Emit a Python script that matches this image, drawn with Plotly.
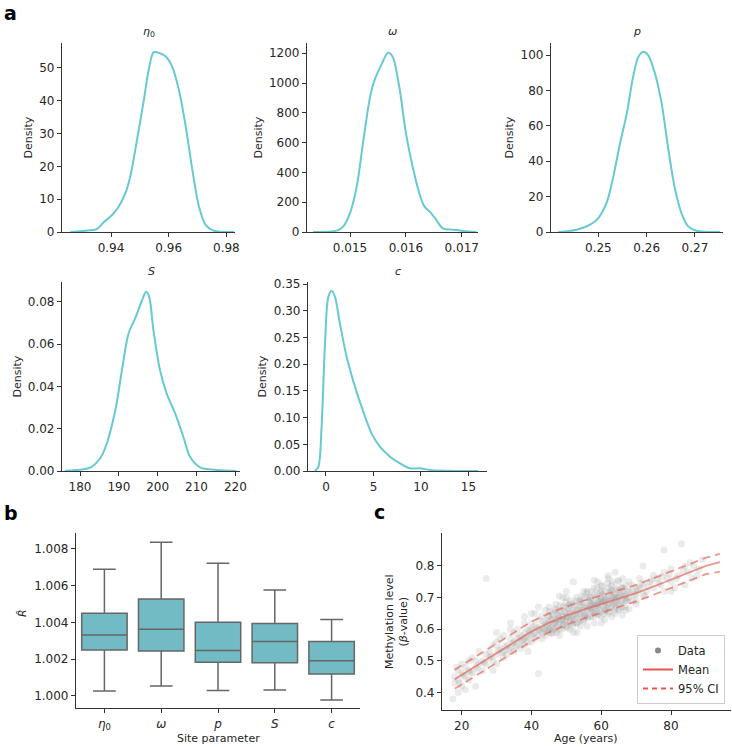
"""Posterior densities, R-hat box plot and methylation fit (Plotly)"""

import plotly.graph_objects as go

W, H = 732, 747

# ---- panel a: posterior KDE curves ----
eta0_x = [0.9259, 0.9328, 0.9351, 0.9374, 0.9403, 0.9427, 0.945, 0.9467, 0.949, 0.9514, 0.9531,
          0.9548, 0.9566, 0.9589, 0.9612, 0.9635, 0.9659, 0.9682, 0.9705, 0.9728, 0.9757, 0.9827]
eta0_y = [0, 0.5, 0.9, 2.9, 5.1, 7.8, 11.9, 17, 28, 40.3, 49.5,
          54.8, 54.6, 53.6, 50.5, 43.4, 32.2, 19, 7.8, 2.2, 0.4, 0]

omega_x = [0.01434, 0.01478, 0.01488, 0.0150, 0.01512, 0.01524, 0.01536, 0.01544, 0.01556, 0.01568, 0.01576,
           0.01588, 0.0160, 0.01612, 0.01624, 0.01633, 0.01645, 0.01654, 0.01666, 0.01684, 0.01702, 0.01726]
omega_y = [0, 11, 38, 127, 306, 619, 909, 1021, 1122, 1204, 1178,
           977, 664, 440, 261, 172, 127, 83, 25, 16, 7, 0]

p_x = [0.2417, 0.2455, 0.2483, 0.25, 0.2517, 0.2531, 0.2545, 0.2559, 0.2572, 0.2583, 0.2593,
       0.2603, 0.2617, 0.2631, 0.2645, 0.2659, 0.2672, 0.2686, 0.2703, 0.2752]
p_y = [0, 1.3, 4.1, 7.9, 16.4, 31.4, 50.2, 67.1, 87.8, 99.1, 101.9,
       100, 89.7, 72.7, 46.4, 23.9, 10.7, 3.2, 0.75, 0]

S_x = [176.1, 180.9, 183, 185.2, 186.9, 189.1, 190.8, 192.5, 194.2, 196, 197,
       197.8, 198.9, 200.6, 202.3, 204.5, 206.6, 208.3, 210.9, 215.2, 220.3]
S_y = [0, 0.0008, 0.002, 0.006, 0.013, 0.0288, 0.0477, 0.065, 0.0721, 0.0808, 0.0847,
       0.0824, 0.0666, 0.0477, 0.0367, 0.0272, 0.0162, 0.0068, 0.0017, 0.0005, 0]

c_x = [-1.16, -0.8, -0.46, -0.1, 0.25, 0.6, 0.95, 1.47, 2.18, 3.05, 3.93,
       4.8, 5.68, 6.74, 7.79, 8.84, 9.9, 10.95, 12.7, 16]
c_y = [0, 0.008, 0.083, 0.239, 0.326, 0.3375, 0.326, 0.276, 0.214, 0.158, 0.111,
       0.0705, 0.0455, 0.0268, 0.0143, 0.005, 0.005, 0.002, 0.0006, 0]

# ---- panel b: R-hat per site parameter ----
params = ["<i>η</i><sub>0</sub>", "<i>ω</i>", "<i>p</i>", "<i>S</i>", "<i>c</i>"]
rhat_low = [1.00025, 1.00053, 1.00029, 1.00031, 0.99976]
rhat_q1 = [1.00249, 1.00244, 1.00182, 1.00180, 1.00118]
rhat_med = [1.00331, 1.00362, 1.00247, 1.00296, 1.00191]
rhat_q3 = [1.00449, 1.00527, 1.00400, 1.00393, 1.00296]
rhat_high = [1.00689, 1.00836, 1.00722, 1.00576, 1.00416]

# ---- panel c: methylation vs age ----
data_age = [
    18, 18, 19, 19, 19, 20, 20, 20, 21, 21, 22, 22, 22, 23, 23, 24, 24, 24, 25, 25, 17.5, 18.5, 21,
    26, 26, 27, 27, 27, 28, 28, 29, 29, 30, 30, 30, 31, 31, 32, 32, 32, 33, 33, 34, 34, 34, 35, 35, 35, 29,
    36, 36, 36, 37, 37, 37, 38, 38, 38, 38, 39, 39, 39, 40, 40, 40, 40, 40, 41, 41, 41, 42, 42, 42, 42,
    43, 43, 43, 43, 44, 44, 44, 44, 45, 45, 45, 45, 45, 41, 39,
    46, 46, 46, 46, 47, 47, 47, 47, 47, 48, 48, 48, 48, 49, 49, 49, 49, 49, 50, 50, 50, 50, 50,
    51, 51, 51, 51, 51, 52, 52, 52, 52, 52, 53, 53, 53, 53, 54, 54, 54, 54, 54, 55, 55, 55, 55, 55, 48, 53, 50,
    56, 56, 56, 56, 56, 57, 57, 57, 57, 57, 58, 58, 58, 58, 58, 59, 59, 59, 59, 59, 60, 60, 60, 60, 60, 60,
    61, 61, 61, 61, 61, 62, 62, 62, 62, 62, 62, 63, 63, 63, 63, 63, 64, 64, 64, 64, 64, 65, 65, 65, 65, 65,
    58, 61, 63, 59, 64, 57, 60,
    66, 66, 66, 66, 67, 67, 67, 67, 68, 68, 68, 69, 69, 70, 70, 70, 71, 71, 72, 72, 72, 73, 74, 75, 75,
    76, 77, 78, 78, 79, 80, 80, 81, 82, 78, 83, 84, 85, 86, 88, 84, 80,
    44.5, 45.5, 46.5, 47.5, 48.5, 49.5, 50.5, 51.5, 52.5, 53.5, 54.5, 55.5,
    56.5, 57.5, 58.5, 59.5, 60.5, 61.5, 62.5, 63.5, 64.5, 65.5, 66.5, 67.5,
    44.5, 45.5, 46.5, 47.5, 48.5, 49.5, 50.5, 51.5, 52.5, 53.5, 54.5, 55.5,
    56.5, 57.5, 58.5, 59.5, 60.5, 61.5, 62.5, 63.5, 64.5, 65.5, 66.5, 67.5,
    43.5, 44.8, 46.2, 47.8, 49.2, 50.8, 52.2, 53.8, 55.2, 56.8, 58.2, 59.8, 61.2, 62.8, 64.2, 65.8, 67.2, 68.8,
    45.2, 46.8, 48.2, 49.8, 51.2, 52.8, 54.2, 55.8, 57.2, 58.8, 60.2, 61.8, 63.2, 64.8, 66.2,
    45.8, 47.2, 48.8, 50.2, 51.8, 53.2, 54.8, 56.2, 57.8, 59.2, 60.8, 62.2, 63.8, 65.2, 66.8,
    38.5, 39.5, 40.5, 41.5, 42.5, 43.5, 37.5, 36.5, 35.5, 34.5, 33.5, 32.5, 31.5, 30.5, 28.5, 26.5, 24.5, 22.5, 20.5, 19.5,
    70.5, 71.5, 73.5, 74.5, 76.5, 77.5, 79.5, 81.5, 83.5, 86.5, 89, 87.5, 85.5, 72.5, 69.5,
    60, 62, 56, 64, 52, 50, 48, 58, 66, 68, 70, 42, 38, 34, 30,
]
data_beta = [
    0.43, 0.45, 0.40, 0.47, 0.44, 0.49, 0.42, 0.46, 0.45, 0.48, 0.50, 0.44, 0.47, 0.51, 0.46, 0.48, 0.42, 0.50, 0.49, 0.53, 0.38, 0.48, 0.41,
    0.50, 0.47, 0.76, 0.52, 0.49, 0.53, 0.51, 0.55, 0.50, 0.52, 0.56, 0.49, 0.54, 0.57, 0.53, 0.51, 0.58, 0.55, 0.52, 0.57, 0.54, 0.60, 0.56, 0.53, 0.59, 0.47,
    0.57, 0.55, 0.60, 0.58, 0.56, 0.54, 0.59, 0.57, 0.62, 0.55, 0.58, 0.60, 0.56, 0.60, 0.58, 0.62, 0.56, 0.65, 0.59, 0.61, 0.57, 0.60, 0.63, 0.58, 0.46,
    0.61, 0.59, 0.64, 0.57, 0.62, 0.60, 0.66, 0.58, 0.62, 0.60, 0.64, 0.59, 0.67, 0.65, 0.53,
    0.63, 0.61, 0.65, 0.59, 0.63, 0.62, 0.66, 0.60, 0.68, 0.64, 0.62, 0.66, 0.60, 0.64, 0.63, 0.67, 0.61, 0.70, 0.65, 0.63, 0.67, 0.61, 0.64,
    0.65, 0.63, 0.68, 0.62, 0.60, 0.66, 0.64, 0.68, 0.62, 0.75, 0.66, 0.64, 0.69, 0.62, 0.67, 0.65, 0.69, 0.63, 0.61, 0.67, 0.65, 0.70, 0.63, 0.72, 0.58, 0.59, 0.70,
    0.67, 0.66, 0.70, 0.64, 0.72, 0.68, 0.66, 0.70, 0.64, 0.67, 0.68, 0.67, 0.71, 0.65, 0.73, 0.69, 0.67, 0.71, 0.65, 0.68, 0.69, 0.68, 0.72, 0.66, 0.64, 0.74,
    0.69, 0.68, 0.72, 0.66, 0.70, 0.70, 0.68, 0.73, 0.67, 0.65, 0.76, 0.70, 0.69, 0.72, 0.67, 0.74, 0.70, 0.69, 0.73, 0.67, 0.65, 0.70, 0.68, 0.72, 0.66, 0.75,
    0.62, 0.63, 0.64, 0.75, 0.71, 0.69, 0.70,
    0.71, 0.69, 0.73, 0.67, 0.71, 0.69, 0.74, 0.66, 0.72, 0.70, 0.75, 0.72, 0.69, 0.73, 0.71, 0.68, 0.73, 0.76, 0.74, 0.71, 0.80, 0.72, 0.75, 0.73, 0.77,
    0.76, 0.74, 0.78, 0.72, 0.76, 0.75, 0.79, 0.73, 0.77, 0.85, 0.87, 0.80, 0.78, 0.76, 0.79, 0.74, 0.72,
    0.615, 0.63, 0.62, 0.645, 0.63, 0.655, 0.64, 0.655, 0.65, 0.665, 0.66, 0.675,
    0.665, 0.68, 0.675, 0.69, 0.685, 0.695, 0.69, 0.705, 0.70, 0.71, 0.705, 0.72,
    0.595, 0.605, 0.645, 0.615, 0.655, 0.625, 0.665, 0.635, 0.675, 0.645, 0.685, 0.645,
    0.69, 0.655, 0.70, 0.665, 0.71, 0.67, 0.715, 0.68, 0.725, 0.685, 0.73, 0.695,
    0.625, 0.64, 0.60, 0.635, 0.615, 0.675, 0.63, 0.685, 0.64, 0.70, 0.655, 0.715, 0.66, 0.725, 0.68, 0.73, 0.69, 0.74,
    0.655, 0.665, 0.675, 0.685, 0.69, 0.70, 0.705, 0.715, 0.72, 0.73, 0.735, 0.745, 0.75, 0.755, 0.76,
    0.585, 0.59, 0.60, 0.605, 0.61, 0.62, 0.625, 0.635, 0.64, 0.645, 0.65, 0.655, 0.66, 0.665, 0.67,
    0.575, 0.595, 0.585, 0.605, 0.595, 0.60, 0.565, 0.575, 0.545, 0.555, 0.535, 0.545, 0.525, 0.535, 0.515, 0.495, 0.475, 0.465, 0.455, 0.43,
    0.725, 0.745, 0.735, 0.755, 0.745, 0.765, 0.775, 0.76, 0.785, 0.80, 0.82, 0.77, 0.81, 0.705, 0.71,
    0.62, 0.77, 0.61, 0.78, 0.59, 0.72, 0.705, 0.755, 0.645, 0.665, 0.69, 0.67, 0.64, 0.62, 0.59,
]

fit_age = [18, 25, 30, 35, 40, 45, 50, 55, 60, 65, 70, 75, 80, 85, 90, 94]
fit_mean = [0.442, 0.490, 0.525, 0.558, 0.593, 0.620, 0.643, 0.662, 0.680, 0.697, 0.714, 0.735, 0.756, 0.778, 0.800, 0.812]
fit_upper = [0.472, 0.520, 0.555, 0.589, 0.624, 0.650, 0.672, 0.690, 0.707, 0.723, 0.740, 0.761, 0.782, 0.804, 0.826, 0.838]
fit_lower = [0.412, 0.460, 0.495, 0.527, 0.562, 0.590, 0.614, 0.634, 0.652, 0.670, 0.688, 0.709, 0.730, 0.752, 0.774, 0.782]

KDE_COLOR = "#66c9d3"
BOX_FILL = "#72bbc4"
EDGE = "#666666"
FIT_COLOR = "rgba(228,95,80,0.65)"
LEGEND_RED = "#e5574b"
FONT = "DejaVu Sans"
INK = "#262626"


def px(x):
    return x / W


def py(y):
    return 1 - y / H


def axis_style(x0, x1, rng, **kw):
    d = dict(
        domain=[px(x0), px(x1)],
        range=rng,
        automargin=False,
        showline=True,
        linecolor="#333333",
        linewidth=1.2,
        showgrid=False,
        zeroline=False,
        ticks="outside",
        ticklen=4,
        tickwidth=1,
        tickcolor="#333333",
        tickfont=dict(family=FONT, size=12, color=INK),
    )
    d.update(kw)
    return d


def yaxis_style(top, bottom, rng, **kw):
    d = axis_style(0, 1, rng, **kw)
    d["domain"] = [py(bottom), py(top)]
    return d


def label(text, x, y, angle=0, size=11):
    return dict(
        text=text, x=px(x), y=py(y), xref="paper", yref="paper",
        xanchor="center", yanchor="middle", showarrow=False, textangle=angle,
        font=dict(family=FONT, size=size, color=INK),
    )


fig = go.Figure()

# (name, x, y, axis no, x box, y box, xrange, yrange, xticks, yticks, yfmt, density label x)
kde_panels = [
    ("<i>η</i><sub>0</sub>", eta0_x, eta0_y, 1, (62, 235), (43, 232), [0.923, 0.983], [0, 57.6],
     [0.94, 0.96, 0.98], [0, 10, 20, 30, 40, 50], None, 28),
    ("<i>ω</i>", omega_x, omega_y, 2, (307, 478), (43, 232), [0.01423, 0.01729], [0, 1269],
     [0.015, 0.016, 0.017], [0, 200, 400, 600, 800, 1000, 1200], None, 258),
    ("<i>p</i>", p_x, p_y, 3, (551, 723), (43, 232), [0.2402, 0.2758], [0, 106.8],
     [0.25, 0.26, 0.27], [0, 20, 40, 60, 80, 100], None, 509),
    ("<i>S</i>", S_x, S_y, 4, (62, 240), (282, 471), [175.36, 221.2], [0, 0.0893],
     [180, 190, 200, 210, 220], [0, 0.02, 0.04, 0.06, 0.08], ".2f", 17),
    ("<i>c</i>", c_x, c_y, 5, (308, 487), (282, 471), [-1.89, 16.95], [0, 0.354],
     [0, 5, 10, 15], [0, 0.05, 0.1, 0.15, 0.2, 0.25, 0.3, 0.35], ".2f", 262),
]

layout_axes = {}
annotations = []

for name, xs, ys, n, (x0, x1), (top, bottom), xr, yr, xt, yt, yfmt, lx in kde_panels:
    sfx = "" if n == 1 else str(n)
    fig.add_trace(
        go.Scatter(
            x=xs, y=ys, mode="lines",
            line=dict(color=KDE_COLOR, width=2, shape="spline", smoothing=0.9),
            xaxis="x" + sfx, yaxis="y" + sfx, showlegend=False, hoverinfo="skip",
        )
    )
    layout_axes["xaxis" + sfx] = axis_style(x0, x1, xr, tickvals=xt, anchor="y" + sfx)
    ykw = dict(tickvals=yt, anchor="x" + sfx)
    if yfmt:
        ykw["tickformat"] = yfmt
    layout_axes["yaxis" + sfx] = yaxis_style(top, bottom, yr, **ykw)
    annotations.append(label(name, (x0 + x1) / 2, top - 11))  # 子图标题
    annotations.append(label("Density", lx, (top + bottom) / 2, angle=-90))

# 箱线图
fig.add_trace(
    go.Box(
        x=[0, 1, 2, 3, 4],
        q1=rhat_q1, median=rhat_med, q3=rhat_q3,
        lowerfence=rhat_low, upperfence=rhat_high,
        fillcolor=BOX_FILL, line=dict(color=EDGE, width=1.5),
        width=0.8, whiskerwidth=0.5, boxpoints=False,
        xaxis="x6", yaxis="y6", showlegend=False, hoverinfo="skip",
    )
)
layout_axes["xaxis6"] = axis_style(76, 360, [-0.5, 4.5], tickvals=[0, 1, 2, 3, 4], ticktext=params, anchor="y6")
layout_axes["yaxis6"] = yaxis_style(533, 708, [0.99933, 1.00887], tickvals=[1.0, 1.002, 1.004, 1.006, 1.008],
                                    tickformat=".3f", anchor="x6")

# 散点 + 拟合
fig.add_trace(
    go.Scatter(
        x=data_age, y=data_beta, mode="markers",
        marker=dict(color="#7a7a7a", size=7, opacity=0.15, line=dict(width=0)),
        xaxis="x7", yaxis="y7", showlegend=False, hoverinfo="skip",
    )
)
fig.add_trace(go.Scatter(x=fit_age, y=fit_mean, mode="lines", line=dict(color=FIT_COLOR, width=1.8),
                         xaxis="x7", yaxis="y7", showlegend=False, hoverinfo="skip"))
for band in (fit_upper, fit_lower):
    fig.add_trace(go.Scatter(x=fit_age, y=band, mode="lines",
                             line=dict(color=FIT_COLOR, width=1.8, dash="8px,5px"),
                             xaxis="x7", yaxis="y7", showlegend=False, hoverinfo="skip"))

# 图例代理
fig.add_trace(go.Scatter(x=[None], y=[None], mode="markers", name="Data",
                         marker=dict(color="#888888", size=6), xaxis="x7", yaxis="y7"))
fig.add_trace(go.Scatter(x=[None], y=[None], mode="lines", name="Mean",
                         line=dict(color=LEGEND_RED, width=2), xaxis="x7", yaxis="y7"))
fig.add_trace(go.Scatter(x=[None], y=[None], mode="lines", name="95% CI",
                         line=dict(color=LEGEND_RED, width=2, dash="5px,4px"), xaxis="x7", yaxis="y7"))

layout_axes["xaxis7"] = axis_style(442, 731, [14.36, 97.2], tickvals=[20, 40, 60, 80], anchor="y7")
layout_axes["yaxis7"] = yaxis_style(533, 710, [0.345, 0.904], tickvals=[0.4, 0.5, 0.6, 0.7, 0.8], anchor="x7")

annotations += [
    label("<i>R̂</i>", 22, 613, angle=-90),
    label("Site parameter", 218, 738),
    label("Age (years)", 586, 738),
    label("Methylation level<br>(<i>β</i>-value)", 396, 622, angle=-90),
]

for letter, lx, ly, anchor in [("a", 2, 0, "top"), ("b", 2, 513, "middle"), ("c", 372, 512, "middle")]:
    annotations.append(dict(
        text=f"<b>{letter}</b>", x=px(lx), y=py(ly), xref="paper", yref="paper", xanchor="left",
        yanchor=anchor, showarrow=False, font=dict(family=FONT, size=19, color="black"),
    ))

fig.update_layout(
    width=W,
    height=H,
    margin=dict(l=0, r=0, t=0, b=0),
    paper_bgcolor="white",
    plot_bgcolor="white",
    font=dict(family=FONT, size=11, color=INK),
    annotations=annotations,
    legend=dict(
        x=px(725), y=py(704), xanchor="right", yanchor="bottom",
        bgcolor="rgba(255,255,255,0.85)", bordercolor="#cccccc", borderwidth=1,
        font=dict(family=FONT, size=11.5, color=INK), itemwidth=30, tracegroupgap=0,
    ),
    **layout_axes,
)

# 去掉页面默认的 8px 边距，让图从左上角开始；隐藏工具栏
fig.write_html(
    "out.html",
    post_script="document.body.style.margin='0px';",
    config={"displayModeBar": False},
)
